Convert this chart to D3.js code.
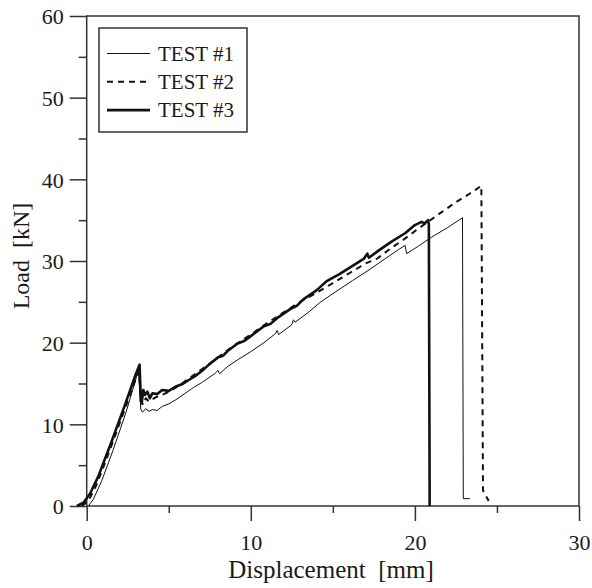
<!DOCTYPE html>
<html>
<head>
<meta charset="utf-8">
<script src="https://cdn.jsdelivr.net/npm/d3@7"></script>
<style>
  body { margin: 0; background: #fff; }
  svg text { font-family: "Liberation Serif", "Times New Roman", serif !important; white-space: pre; fill: #1a1a1a; }
</style>
</head>
<body>
<svg id="chart" width="592" height="588"></svg>
<script>
// load-displacement curves, [displacement mm, load kN]
const test1 = [[0.1,0],[0.4,0.8],[0.9,3.0],[1.6,6.8],[2.4,11.5],[3.15,16.6],[3.3,11.8],[3.4,11.5],[3.6,11.9],
  [3.8,11.6],[4.0,11.8],[4.3,11.7],[4.6,12.2],[5.0,12.5],[5.5,13.1],[6.0,13.8],[6.5,14.5],[7.0,15.1],[7.8,16.2],
  [8.0,16.6],[8.1,16.2],[8.6,17.1],[9.2,17.9],[10.0,18.9],[10.8,20.0],[11.5,21.1],[11.6,21.5],[11.7,21.0],
  [12.5,22.2],[12.6,22.8],[12.7,22.5],[13.5,23.7],[14.2,24.9],[15.0,26.0],[16.2,27.6],[17.2,28.9],[18.2,30.3],
  [19.0,31.4],[19.4,31.9],[19.5,30.9],[20.2,31.8],[21.0,32.9],[22.0,34.1],[22.9,35.3],[22.95,0.9],[23.35,0.9]];
const test2 = [[-0.3,0],[0.1,0.6],[0.6,2.6],[1.4,6.8],[2.2,11.2],[3.0,15.6],[3.2,16.5],[3.3,12.8],[3.45,12.4],
  [3.6,13.2],[3.8,12.8],[4.2,13.3],[4.7,13.7],[5.2,14.2],[5.8,15.0],[6.5,16.0],[7.2,17.0],[8.0,18.2],[9.0,19.7],
  [10.0,21.0],[11.0,22.4],[12.0,23.7],[13.0,25.0],[14.0,26.1],[15.0,27.3],[16.0,28.5],[17.0,29.7],[17.7,30.3],
  [18.5,31.5],[19.3,32.6],[20.1,33.8],[21.5,35.8],[22.5,37.2],[23.3,38.2],[24.05,39.2],[24.15,1.9],[24.5,0.6]];
const test3 = [[-0.6,0],[-0.2,0.4],[0.2,1.5],[0.7,3.6],[1.5,7.8],[2.3,12.2],[3.0,16.2],[3.22,17.3],[3.3,13.0],
  [3.35,12.6],[3.45,14.2],[3.55,13.6],[3.7,14.0],[3.85,13.2],[4.0,13.8],[4.3,13.7],[4.6,14.2],[5.0,14.1],
  [5.4,14.6],[5.8,14.9],[6.2,15.4],[6.6,15.9],[7.0,16.5],[7.5,17.4],[8.0,18.2],[8.3,18.4],[8.6,19.0],[9.2,19.9],
  [9.6,20.2],[10.0,20.8],[10.8,22.0],[11.2,22.3],[11.6,23.0],[12.4,24.1],[12.8,24.5],[13.2,25.3],[14.0,26.4],
  [14.6,27.5],[15.4,28.4],[16.2,29.4],[16.9,30.3],[17.1,30.9],[17.2,30.4],[17.8,31.3],[18.6,32.4],[19.4,33.4],
  [20.0,34.4],[20.4,34.8],[20.6,34.6],[20.8,35.0],[20.85,34.5],[20.9,0]];

const seriesNames = ['TEST #1', 'TEST #2', 'TEST #3'];
const xMajor = [0, 10, 20, 30], xMinor = [5, 15, 25];
const yMajor = [0, 10, 20, 30, 40, 50, 60], yMinor = [5, 15, 25, 35, 45, 55];

const styles = [
  { width: 1, dash: null },
  { width: 2, dash: '6,5' },
  { width: 2.6, dash: null },
];

const svg = d3.select('#chart');
const L = 86.7, R = 579, T = 16, B = 506;
const x = d3.scaleLinear().domain([0, 30]).range([L, R]);
const y = d3.scaleLinear().domain([0, 60]).range([B, T]);
const axisColor = '#333';

// axes
const gx = svg.append('g').attr('transform', `translate(0,${B})`);
gx.call(d3.axisBottom(x).tickValues(xMajor).tickSize(15).tickFormat(d3.format('d')));
const gxm = svg.append('g').attr('transform', `translate(0,${B})`);
gxm.call(d3.axisBottom(x).tickValues(xMinor).tickSize(7).tickFormat(''));
const gy = svg.append('g').attr('transform', `translate(${L},0)`);
gy.call(d3.axisLeft(y).tickValues(yMajor).tickSize(17).tickFormat(d3.format('d')));
const gym = svg.append('g').attr('transform', `translate(${L},0)`);
gym.call(d3.axisLeft(y).tickValues(yMinor).tickSize(8).tickFormat(''));

svg.selectAll('.domain').remove();
svg.selectAll('.tick line').attr('stroke', axisColor).attr('stroke-width', 1.5);
gx.selectAll('.tick text').attr('y', 0).attr('dy', 0).attr('transform', 'translate(0,44)')
  .attr('font-size', 22);
gy.selectAll('.tick text').attr('x', -23).attr('dy', '0.36em')
  .attr('font-size', 22);

// frame
svg.append('rect').attr('x', L).attr('y', T).attr('width', R - L).attr('height', B - T)
  .attr('fill', 'none').attr('stroke', axisColor).attr('stroke-width', 1.5);

// curves
const line = d3.line().x(d => x(d[0])).y(d => y(d[1]));
[test1, test2, test3].forEach((data, i) => {
  svg.append('path').datum(data).attr('d', line)
    .attr('fill', 'none').attr('stroke', '#111')
    .attr('stroke-width', styles[i].width)
    .attr('stroke-dasharray', styles[i].dash)
    .attr('stroke-linejoin', 'round');
});

// legend
const lg = svg.append('g');
lg.append('rect').attr('x', 99).attr('y', 28).attr('width', 148).attr('height', 104)
  .attr('fill', '#fff').attr('stroke', axisColor).attr('stroke-width', 1.5);
seriesNames.forEach((name, i) => {
  const ly = 53.5 + i * 28.3;
  lg.append('line').attr('x1', 107).attr('x2', 150).attr('y1', ly).attr('y2', ly)
    .attr('stroke', '#111').attr('stroke-width', styles[i].width)
    .attr('stroke-dasharray', styles[i].dash);
  lg.append('text').attr('x', 158).attr('y', ly + 7).attr('font-size', 21).text(name);
});

// titles
svg.append('text').attr('x', 331).attr('y', 578).attr('text-anchor', 'middle')
  .attr('font-size', 25).text('Displacement  [mm]');
svg.append('text').attr('transform', 'translate(29,256) rotate(-90)').attr('text-anchor', 'middle')
  .attr('font-size', 24).text('Load  [kN]');
</script>
</body>
</html>
